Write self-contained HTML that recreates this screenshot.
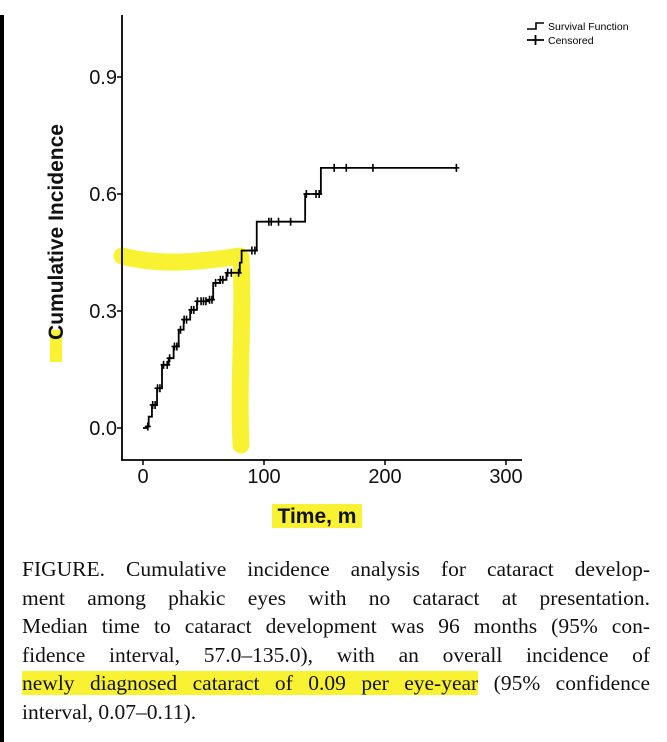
<!DOCTYPE html>
<html><head><meta charset="utf-8">
<style>
html,body{margin:0;padding:0;background:#fff;}
body{width:667px;height:742px;position:relative;overflow:hidden;}
svg{position:absolute;left:0;top:0;}
.cap{position:absolute;left:22px;width:628px;font-family:"Liberation Serif",serif;font-size:21.5px;color:#111;line-height:28.5px;}
.ln{display:block;text-align:justify;text-align-last:justify;white-space:nowrap;}
.last{text-align-last:left;}
.hl{background:#f8f232;}
</style></head><body>
<svg id="chart" width="667" height="742" font-family="Liberation Sans, sans-serif">
  <rect x="0" y="15" width="4" height="727" fill="#000"/>
  <g id="hl"></g>
  <g id="axes"></g>
  <g id="series"></g>
  <g>
    <path d="M527 29 H536 V23 H544" fill="none" stroke="#000" stroke-width="1.6"/>
    <text x="548" y="30" font-size="10.5">Survival Function</text>
    <path d="M527 40 H544 M535.5 35 V45" stroke="#000" stroke-width="1.8"/>
    <text x="548" y="44" font-size="10.5">Censored</text>
  </g>
</svg>
<div class="cap" style="top:555px">
<span class="ln">FIGURE. Cumulative incidence analysis for cataract develop-</span>
<span class="ln">ment among phakic eyes with no cataract at presentation.</span>
<span class="ln">Median time to cataract development was 96 months (95% con-</span>
<span class="ln">fidence interval, 57.0–135.0), with an overall incidence of</span>
<span class="ln"><span class="hl">newly diagnosed cataract of 0.09 per eye-year</span> (95% confidence</span>
<span class="ln last">interval, 0.07–0.11).</span>
</div>
<script>
const eventTimes=[0,3.3,4.7,7.4,11.6,15.7,21.2,25.3,29.5,33.6,39,44.6,54,58,63.6,69,80,81.5,94,134,147];
const eventValues=[0,0.004,0.029,0.059,0.102,0.162,0.179,0.209,0.252,0.278,0.303,0.325,0.329,0.372,0.38,0.398,0.424,0.455,0.529,0.60,0.667];
const censorTimes=[4,8,10,12,14,17,20,22,26,28,31,34,36,40,42,45,48,50,52,55,57,60,64,66,70,73,79,90,92.5,104,106,112,122,135,143,145.6,158,168,190,259];
const endTime=259;
const xTicks=[0,100,200,300];
const yTicks=[0,0.3,0.6,0.9];
const yTickLabels=["0.0","0.3","0.6","0.9"];
const NS="http://www.w3.org/2000/svg";
const X=t=>143+t*1.21;
const Y=v=>428-v*390;
function mk(tag,attrs,parent){const e=document.createElementNS(NS,tag);for(const k in attrs)e.setAttribute(k,attrs[k]);parent.appendChild(e);return e;}
const axes=document.getElementById('axes'),series=document.getElementById('series'),hl=document.getElementById('hl');
// highlights
let h1=mk('path',{d:'M122 256 C160 266,200 262,240 256 M241 258 C244 320,238 380,241 445',fill:'none',stroke:'#f8f232','stroke-width':17,'stroke-linecap':'round'},hl);


let h2=mk('rect',{x:272,y:504,width:90,height:24,fill:'#f8f232'},hl);


let h3=mk('rect',{x:50,y:330,width:12,height:32,fill:'#f8f232'},hl);


// axes
let ya=mk('line',{x1:122,y1:15,x2:122,y2:460,stroke:'#000','stroke-width':1.8},axes);


let xa=mk('line',{x1:121,y1:460,x2:522,y2:460,stroke:'#000','stroke-width':1.8},axes);


yTicks.forEach((v,i)=>{
  let t=mk('line',{x1:117,y1:Y(v),x2:122,y2:Y(v),stroke:'#000','stroke-width':1.5},axes);
  
  
  let l=mk('text',{x:117,y:Y(v)+7,'text-anchor':'end','font-size':20,fill:'#111'},axes);
  l.textContent=yTickLabels[i];
  
  
});
xTicks.forEach(v=>{
  let t=mk('line',{x1:X(v),y1:460,x2:X(v),y2:465,stroke:'#000','stroke-width':1.5},axes);
  
  
  let l=mk('text',{x:X(v),y:483,'text-anchor':'middle','font-size':20,fill:'#111'},axes);
  l.textContent=String(v);
  
  
});
let yt=mk('text',{x:0,y:0,transform:'translate(63,232) rotate(-90)','text-anchor':'middle','font-size':21,'font-weight':'bold',fill:'#111'},axes);
yt.textContent='Cumulative Incidence';


let xt=mk('text',{x:317,y:523,'text-anchor':'middle','font-size':21,'font-weight':'bold',fill:'#111'},axes);
xt.textContent='Time, m';


// step line
let d='M'+X(eventTimes[0])+' '+Y(eventValues[0]);
for(let i=1;i<eventTimes.length;i++){d+=' H'+X(eventTimes[i])+' V'+Y(eventValues[i]);}
d+=' H'+X(endTime);
let sl=mk('path',{d:d,fill:'none',stroke:'#000','stroke-width':1.8},series);


function valAt(t){let v=eventValues[0];for(let i=0;i<eventTimes.length;i++){if(eventTimes[i]<=t)v=eventValues[i];}return v;}
censorTimes.forEach(t=>{
  const cx=X(t),cy=Y(valAt(t));
  let c=mk('path',{d:`M${cx-3} ${cy} H${cx+3} M${cx} ${cy-4} V${cy+4}`,stroke:'#000','stroke-width':1.6},series);
  
  
});
</script>
</body></html>
